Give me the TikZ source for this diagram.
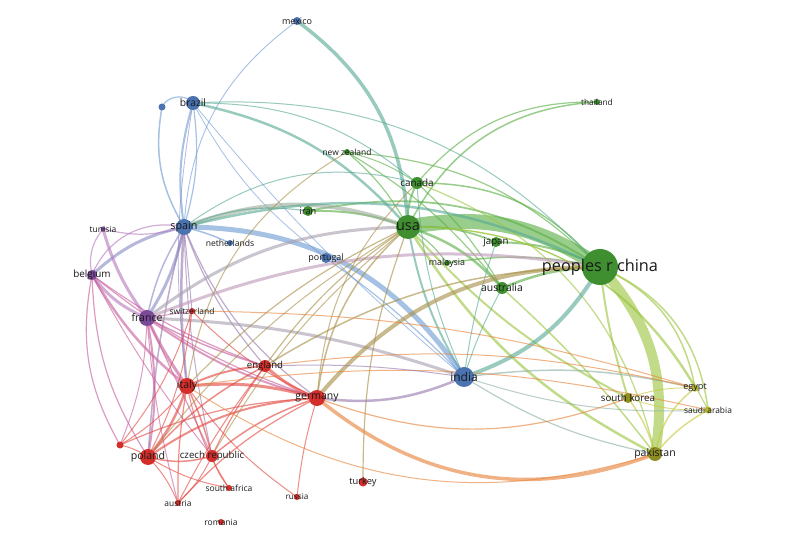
\documentclass[tikz,border=0pt]{standalone}
\usepackage{fontspec}
\setmainfont{Open Sans}
\pgfdeclarelayer{back}
\pgfdeclarelayer{bg}
\pgfsetlayers{back,bg,main}
\definecolor{nG}{HTML}{3F8F30}
\definecolor{nB}{HTML}{4A73B0}
\definecolor{nR}{HTML}{D42E2A}
\definecolor{nP}{HTML}{7A4A98}
\definecolor{nY}{HTML}{B3B32E}
\definecolor{nO}{HTML}{8E8E22}
\definecolor{eG}{HTML}{5BAF45}
\definecolor{eGY}{HTML}{9CC640}
\definecolor{eY}{HTML}{C9C940}
\definecolor{eB}{HTML}{6E9BD3}
\definecolor{eGB}{HTML}{5AAA96}
\definecolor{eBG}{HTML}{9FAE9C}
\definecolor{eP}{HTML}{B77DC0}
\definecolor{eBP}{HTML}{8C8CC8}
\definecolor{eRP}{HTML}{C8609E}
\definecolor{eR}{HTML}{E4463F}
\definecolor{eRG}{HTML}{A8904A}
\definecolor{eRO}{HTML}{E8843A}
\definecolor{eBR}{HTML}{9A7BB0}
\definecolor{eBY}{HTML}{8FB0A0}
\definecolor{eGP}{HTML}{A8A0B0}
\definecolor{ePG}{HTML}{C09AB8}
\tikzset{
  dotnode/.style={circle,inner sep=0pt,draw=none},
  lab/.style={inner sep=0pt,text=black!90},
  edge/.style={opacity=.62,line cap=round}
}
\newcommand\nd[5]{\node[dotnode,minimum size=#4pt,fill=#5] (#1) at (#2,#3) {};}
\newcommand\lbl[3]{\node[lab,font=\fontsize{#3}{#3}\selectfont] (#1-l) at (#1) {#2};}
\newcommand\edg[5]{\draw[edge,line width=#4pt,draw=#5] (#1.center) to[bend left=#3] (#2.center);}
\begin{document}
\begin{tikzpicture}[x=1pt,y=1pt]
\begin{pgfonlayer}{back}
\fill[white] (0,0) rectangle (800,541);
\end{pgfonlayer}
\useasboundingbox (0,0) rectangle (800,541);
% nodes
\nd{mexico}{297}{520}{8}{nB}
\nd{brazil}{193}{438}{14}{nB}
\nd{bdot}{162}{434}{7}{nB}
\nd{nz}{347}{389}{6}{nG}
\nd{thai}{597}{439}{6}{nG}
\nd{canada}{417}{358}{12}{nG}
\nd{iran}{308}{330}{10}{nG}
\nd{usa}{408}{314}{24}{nG}
\nd{japan}{496}{299}{10}{nG}
\nd{china}{600}{274}{36}{nG}
\nd{malay}{447}{278}{6}{nG}
\nd{austl}{502}{253}{12}{nG}
\nd{spain}{184}{314}{16}{nB}
\nd{tunisia}{103}{312}{5}{nP}
\nd{neth}{230}{298}{6}{nB}
\nd{portugal}{326}{283}{10}{nB}
\nd{belgium}{92}{266}{10}{nP}
\nd{france}{147}{223}{16}{nP}
\nd{switz}{192}{230}{6}{nR}
\nd{england}{265}{175}{12}{nR}
\nd{italy}{187}{155}{16}{nR}
\nd{germany}{317}{143}{16}{nR}
\nd{india}{464}{164}{20}{nB}
\nd{skorea}{628}{143}{10}{nO}
\nd{egypt}{695}{153}{7}{nY}
\nd{saudi}{708}{131}{7}{nY}
\nd{pakistan}{655}{87}{14}{nO}
\nd{poland}{148}{84}{16}{nR}
\nd{czech}{212}{85}{12}{nR}
\nd{rdot}{120}{96}{7}{nR}
\nd{turkey}{363}{59}{9}{nR}
\nd{safrica}{229}{53}{6}{nR}
\nd{russia}{297}{44}{6}{nR}
\nd{austria}{178}{38}{6}{nR}
\nd{romania}{221}{19}{6}{nR}
% labels
\lbl{china}{peoples r china}{16.3}
\lbl{usa}{usa}{14.5}
\lbl{india}{india}{12}
\lbl{spain}{spain}{10.8}
\lbl{brazil}{brazil}{10.3}
\lbl{france}{france}{10.5}
\lbl{germany}{germany}{10.5}
\lbl{italy}{italy}{10.5}
\lbl{poland}{poland}{10.6}
\lbl{czech}{czech republic}{9.7}
\lbl{england}{england}{9.6}
\lbl{pakistan}{pakistan}{10.5}
\lbl{skorea}{south korea}{9.8}
\lbl{canada}{canada}{9.9}
\lbl{austl}{australia}{10.4}
\lbl{japan}{japan}{9.7}
\lbl{iran}{iran}{9.2}
\lbl{portugal}{portugal}{8.9}
\lbl{malay}{malaysia}{8.9}
\lbl{nz}{new zealand}{8.4}
\lbl{mexico}{mexico}{9}
\lbl{belgium}{belgium}{9.9}
\lbl{tunisia}{tunisia}{8.5}
\lbl{neth}{netherlands}{8.6}
\lbl{switz}{switzerland}{8.4}
\lbl{turkey}{turkey}{9.3}
\lbl{safrica}{south africa}{8.5}
\lbl{russia}{russia}{8.2}
\lbl{austria}{austria}{8.4}
\lbl{romania}{romania}{8.5}
\lbl{thai}{thailand}{8.3}
\lbl{egypt}{egypt}{9.1}
\lbl{saudi}{saudi arabia}{8.4}
% edges
\begin{pgfonlayer}{bg}
% green cluster
\edg{usa}{china}{22}{15}{eG}
\edg{china}{pakistan}{26}{10}{eGY}
\edg{usa}{canada}{15}{2}{eG}
\edg{canada}{china}{25}{1.5}{eG}
\edg{usa}{japan}{12}{1.8}{eG}
\edg{japan}{china}{12}{2}{eG}
\edg{usa}{austl}{15}{2.5}{eG}
\edg{austl}{china}{10}{2.5}{eG}
\edg{usa}{malay}{10}{1.2}{eG}
\edg{malay}{china}{10}{1.5}{eG}
\edg{iran}{usa}{10}{2}{eG}
\edg{iran}{china}{22}{1.8}{eG}
\edg{nz}{usa}{10}{1.2}{eG}
\edg{nz}{china}{20}{1.2}{eG}
\edg{nz}{austl}{10}{1.2}{eG}
\edg{nz}{canada}{10}{1}{eG}
\edg{usa}{thai}{30}{1.5}{eG}
\edg{canada}{thai}{25}{1.2}{eG}
\edg{canada}{austl}{8}{1.2}{eG}
\edg{mexico}{usa}{25}{3.5}{eGB}
\edg{usa}{india}{-10}{2}{eGB}
\edg{usa}{pakistan}{-15}{2.5}{eGY}
\edg{usa}{skorea}{-10}{2}{eGY}
\edg{usa}{egypt}{30}{1.2}{eGY}
\edg{usa}{saudi}{32}{1.2}{eGY}
\edg{canada}{pakistan}{28}{1.2}{eGY}
\edg{china}{skorea}{-5}{2}{eGY}
\edg{china}{egypt}{28}{1.5}{eGY}
\edg{china}{saudi}{30}{1.5}{eGY}
\edg{pakistan}{egypt}{20}{1.5}{eY}
\edg{pakistan}{saudi}{10}{1.5}{eY}
\edg{skorea}{egypt}{10}{1}{eY}
\edg{skorea}{saudi}{-10}{1}{eY}
\edg{skorea}{pakistan}{10}{1.5}{eY}
\edg{india}{pakistan}{-10}{1.2}{eBY}
\edg{india}{saudi}{-10}{1}{eBY}
\edg{india}{china}{-20}{4}{eGB}
\edg{india}{egypt}{10}{1.5}{eBY}
\edg{austl}{pakistan}{5}{1.5}{eGY}
\edg{austl}{india}{-5}{1}{eGB}
\edg{japan}{india}{-5}{1}{eGB}
\edg{canada}{india}{-10}{1}{eGB}
% blue cluster
\edg{spain}{bdot}{20}{1.5}{eB}
\edg{bdot}{brazil}{60}{1.2}{eB}
\edg{spain}{brazil}{12}{2}{eB}
\edg{brazil}{spain}{12}{1.2}{eB}
\edg{spain}{mexico}{25}{0.9}{eB}
\edg{brazil}{usa}{18}{2.5}{eGB}
\edg{brazil}{canada}{20}{1}{eGB}
\edg{brazil}{china}{25}{1}{eGB}
\edg{brazil}{portugal}{-12}{0.8}{eB}
\edg{brazil}{india}{-5}{0.8}{eB}
\edg{brazil}{italy}{-8}{0.8}{eBP}
\edg{spain}{neth}{5}{1.5}{eB}
\edg{spain}{india}{28}{5}{eB}
\edg{portugal}{india}{5}{1.2}{eB}
\edg{spain}{usa}{20}{4}{eBG}
\edg{spain}{iran}{15}{1.2}{eGB}
\edg{spain}{canada}{25}{1}{eGB}
\edg{spain}{china}{20}{2.5}{eGB}
\edg{spain}{france}{10}{3}{eBP}
\edg{france}{spain}{10}{1.5}{eBP}
\edg{spain}{italy}{-5}{2.5}{eBR}
\edg{spain}{belgium}{-15}{3}{eBP}
\edg{spain}{tunisia}{15}{1.2}{eP}
\edg{spain}{poland}{-5}{1.5}{eBR}
\edg{spain}{czech}{-5}{1}{eBR}
\edg{spain}{england}{-10}{1.2}{eBR}
\edg{spain}{germany}{-15}{1.2}{eBR}
\edg{spain}{switz}{0}{1}{eBR}
% purple
\edg{belgium}{france}{-15}{3}{eP}
\edg{tunisia}{france}{-10}{3}{eP}
\edg{belgium}{spain}{40}{1.2}{eP}
\edg{tunisia}{belgium}{-25}{1.2}{eP}
\edg{belgium}{italy}{-10}{2.5}{eRP}
\edg{belgium}{poland}{-15}{1.2}{eRP}
\edg{belgium}{rdot}{-20}{1.2}{eRP}
\edg{belgium}{germany}{-10}{1.2}{eRP}
\edg{belgium}{england}{-8}{1.2}{eRP}
\edg{belgium}{czech}{-5}{1}{eRP}
\edg{france}{italy}{-5}{3}{eRP}
\edg{france}{poland}{10}{2}{eRP}
\edg{france}{czech}{0}{1.2}{eRP}
\edg{france}{germany}{-10}{2}{eRP}
\edg{france}{england}{-5}{1.5}{eRP}
\edg{france}{usa}{18}{3}{eGP}
\edg{france}{china}{15}{3}{ePG}
\edg{france}{india}{8}{3}{eGP}
\edg{france}{switz}{0}{1}{eRP}
\edg{france}{austria}{-5}{1}{eRP}
\edg{france}{rdot}{10}{1}{eRP}
% red
\edg{italy}{germany}{10}{3}{eR}
\edg{england}{germany}{-10}{3}{eR}
\edg{italy}{england}{10}{2}{eR}
\edg{italy}{poland}{10}{2.5}{eR}
\edg{italy}{czech}{5}{1.5}{eR}
\edg{poland}{czech}{-15}{1.5}{eR}
\edg{poland}{austria}{10}{1}{eR}
\edg{czech}{austria}{10}{1}{eR}
\edg{italy}{austria}{-5}{1.2}{eR}
\edg{rdot}{poland}{10}{1}{eR}
\edg{rdot}{italy}{-10}{1}{eR}
\edg{rdot}{germany}{10}{1.2}{eR}
\edg{rdot}{switz}{-10}{1}{eR}
\edg{poland}{germany}{15}{2}{eR}
\edg{czech}{germany}{10}{1.5}{eR}
\edg{germany}{russia}{-5}{1}{eR}
\edg{italy}{russia}{-10}{1}{eR}
\edg{poland}{safrica}{-10}{1}{eR}
\edg{czech}{safrica}{-10}{1}{eR}
\edg{italy}{safrica}{-10}{1}{eR}
\edg{england}{poland}{-10}{1.5}{eR}
\edg{england}{czech}{-5}{1.2}{eR}
\edg{england}{austria}{-5}{1}{eR}
\edg{germany}{austria}{-10}{1.2}{eR}
\edg{turkey}{usa}{10}{1.2}{eRG}
\edg{germany}{india}{-15}{2.5}{eBR}
\edg{pakistan}{germany}{30}{3.5}{eRO}
\edg{skorea}{germany}{20}{1.2}{eRO}
\edg{pakistan}{italy}{25}{1}{eRO}
\edg{germany}{china}{25}{4}{eRG}
\edg{england}{china}{15}{1.5}{eRG}
\edg{italy}{usa}{10}{1.2}{eRG}
\edg{england}{usa}{10}{1.2}{eRG}
\edg{germany}{usa}{20}{1.5}{eRG}
\edg{germany}{canada}{20}{1}{eRG}
\edg{poland}{usa}{10}{1}{eRG}
\edg{czech}{usa}{10}{1}{eRG}
\edg{switz}{egypt}{8}{1}{eRO}
\edg{england}{egypt}{10}{1}{eRO}
\edg{italy}{saudi}{10}{1}{eRO}
\edg{italy}{nz}{25}{1}{eRG}
\edg{england}{india}{5}{1}{eBR}
\edg{switz}{germany}{-10}{1}{eR}
\edg{switz}{poland}{10}{1}{eR}
\end{pgfonlayer}
\end{tikzpicture}
\end{document}
